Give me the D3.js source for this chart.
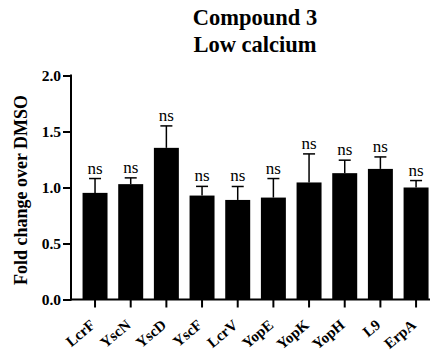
<!DOCTYPE html>
<html>
<head>
<meta charset="utf-8">
<script src="https://cdn.jsdelivr.net/npm/d3@7"></script>
<style>
  body { margin: 0; background: #fff; }
  text { font-family: "Liberation Serif", "Times New Roman", serif; }
</style>
</head>
<body>
<div id="chart"></div>
<script>
const genes = ['LcrF', 'YscN', 'YscD', 'YscF', 'LcrV', 'YopE', 'YopK', 'YopH', 'L9', 'ErpA'];
const foldChange = [0.952, 1.03, 1.354, 0.928, 0.889, 0.91, 1.045, 1.128, 1.166, 1.0];
const errUpper = [0.128, 0.056, 0.196, 0.082, 0.12, 0.17, 0.255, 0.116, 0.107, 0.062];
const significance = ['ns', 'ns', 'ns', 'ns', 'ns', 'ns', 'ns', 'ns', 'ns', 'ns'];
const yTicks = [0, 0.5, 1.0, 1.5, 2.0];

const width = 437, height = 353;
const svg = d3.select('#chart').append('svg')
  .attr('width', width)
  .attr('height', height);

const axisX = 71, axisY = 299.5;

const x = d3.scaleBand()
  .domain(genes)
  .range([77.2, 433.9])
  .paddingInner(0.3)
  .paddingOuter(0.15);

const y = d3.scaleLinear()
  .domain([0, 2])
  .range([axisY, 75.5]);

// title
svg.append('text')
  .attr('x', 255).attr('y', 25)
  .attr('text-anchor', 'middle')
  .style('font-size', '22.5px').style('font-weight', 'bold')
  .text('Compound 3');
svg.append('text')
  .attr('x', 255).attr('y', 51.5)
  .attr('text-anchor', 'middle')
  .style('font-size', '22.5px').style('font-weight', 'bold')
  .text('Low calcium');

// bars
svg.selectAll('.bar')
  .data(genes)
  .enter().append('rect')
  .attr('class', 'bar')
  .attr('x', d => x(d))
  .attr('width', x.bandwidth())
  .attr('y', (d, i) => y(foldChange[i]))
  .attr('height', (d, i) => axisY - y(foldChange[i]))
  .attr('fill', '#000');

// error bars (upper only)
const err = svg.selectAll('.err')
  .data(genes)
  .enter().append('g')
  .attr('class', 'err')
  .attr('stroke', '#000')
  .attr('stroke-width', 1.5);

err.append('line')
  .attr('x1', d => x(d) + x.bandwidth() / 2)
  .attr('x2', d => x(d) + x.bandwidth() / 2)
  .attr('y1', (d, i) => y(foldChange[i]))
  .attr('y2', (d, i) => y(foldChange[i] + errUpper[i]));

err.append('line')
  .attr('x1', d => x(d) + x.bandwidth() / 2 - 6)
  .attr('x2', d => x(d) + x.bandwidth() / 2 + 6)
  .attr('y1', (d, i) => y(foldChange[i] + errUpper[i]))
  .attr('y2', (d, i) => y(foldChange[i] + errUpper[i]));

// significance labels
svg.selectAll('.sig')
  .data(genes)
  .enter().append('text')
  .attr('class', 'sig')
  .attr('x', d => x(d) + x.bandwidth() / 2)
  .attr('y', (d, i) => y(foldChange[i] + errUpper[i]) - 5)
  .attr('text-anchor', 'middle')
  .style('font-size', '17px')
  .text((d, i) => significance[i]);

// y axis
const yAxis = svg.append('g')
  .attr('transform', `translate(${axisX},0)`)
  .call(d3.axisLeft(y).tickValues(yTicks).tickFormat(d3.format('.1f')).tickSize(8).tickPadding(2));
yAxis.select('.domain').remove();
yAxis.selectAll('line').attr('stroke-width', 2);
yAxis.selectAll('text')
  .style('font-size', '15.5px').style('font-weight', 'bold')
  .style('font-family', '"Liberation Serif", serif')
  .attr('fill', '#000');
svg.append('line')
  .attr('x1', axisX).attr('x2', axisX)
  .attr('y1', y(2) - 1).attr('y2', axisY + 1)
  .attr('stroke', '#000').attr('stroke-width', 2);

// x axis
const xAxis = svg.append('g')
  .attr('transform', `translate(0,${axisY})`)
  .call(d3.axisBottom(x).tickSize(8).tickSizeOuter(0));
xAxis.select('.domain').remove();
xAxis.selectAll('line').attr('stroke-width', 2);
xAxis.selectAll('text')
  .style('font-size', '15px').style('font-weight', 'bold')
  .style('font-family', '"Liberation Serif", serif')
  .attr('fill', '#000')
  .style('text-anchor', 'end')
  .attr('x', 0).attr('y', 0).attr('dy', 0)
  .attr('transform', 'translate(1,27) rotate(-40)');
svg.append('line')
  .attr('x1', axisX - 1).attr('x2', 430)
  .attr('y1', axisY).attr('y2', axisY)
  .attr('stroke', '#000').attr('stroke-width', 2);

// y label
svg.append('text')
  .attr('transform', `translate(27,190) rotate(-90)`)
  .attr('text-anchor', 'middle')
  .style('font-size', '18px').style('font-weight', 'bold')
  .text('Fold change over DMSO');
</script>
</body>
</html>
